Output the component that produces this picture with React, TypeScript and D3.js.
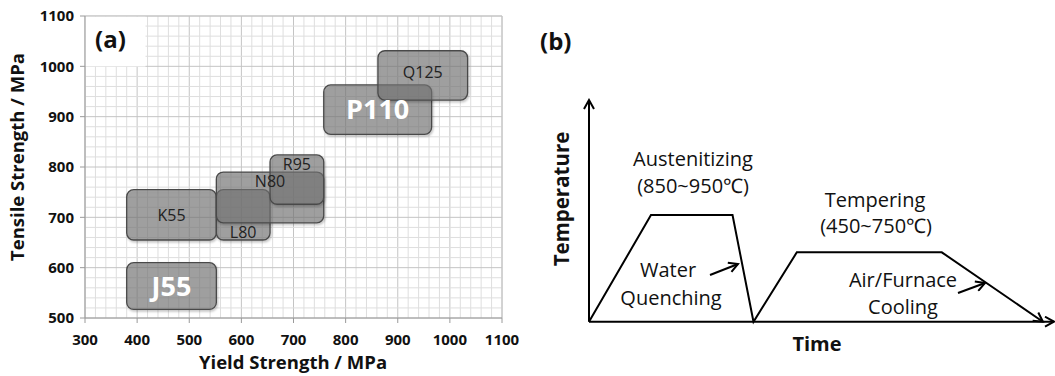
import React from "react";
import * as d3 from "d3";

// ---- Panel (a) data: API 5CT grades (yield range, tensile range)
const grades = ["J55", "K55", "L80", "N80", "R95", "P110", "Q125"];
const yieldMin = [380, 380, 552, 552, 655, 758, 862];
const yieldMax = [552, 552, 655, 758, 758, 965, 1034];
const tensileMin = [517, 655, 655, 689, 726, 865, 933];
const tensileMax = [610, 755, 755, 790, 824, 963, 1031];
const xTicks = [300, 400, 500, 600, 700, 800, 900, 1000, 1100];
const yTicks = [500, 600, 700, 800, 900, 1000, 1100];

// ---- Panel (b) data: heat-treatment profile (arbitrary units)
const profTime = [0, 13.3, 30.8, 35.3, 44.6, 75.7, 97.4];
const profTemp = [0, 48.1, 48.1, 0, 31.3, 31.3, 0];

const FONT = "'Open Sans', 'Noto Sans', sans-serif";

export default function App() {
  const x = d3.scaleLinear().domain([300, 1100]).range([85, 502]);
  const y = d3.scaleLinear().domain([500, 1100]).range([318, 16]);
  const minorX = d3.range(300, 1101, 20);
  const minorY = d3.range(500, 1101, 20);

  const xb = d3.scaleLinear().domain([0, 100]).range([589, 1055]);
  const yb = d3.scaleLinear().domain([0, 100]).range([321.7, 100]);
  const line = d3
    .line<number>()
    .x((_, i) => xb(profTime[i]))
    .y((_, i) => yb(profTemp[i]));
  const profile = line(profTime as any) || "";

  const labelStyle: Record<string, { big: boolean; pos: string }> = {
    J55: { big: true, pos: "c" },
    K55: { big: false, pos: "c" },
    L80: { big: false, pos: "b" },
    N80: { big: false, pos: "t" },
    R95: { big: false, pos: "t" },
    P110: { big: true, pos: "c" },
    Q125: { big: false, pos: "q" },
  };

  return (
    <svg
      width={1055}
      height={376}
      style={{ position: "absolute", left: 0, top: 0, background: "#fff" }}
      fontFamily={FONT}
    >
      <defs>
        <filter id="sh" x="-10%" y="-10%" width="130%" height="140%">
          <feDropShadow dx="1" dy="1.5" stdDeviation="1.2" floodColor="#000" floodOpacity="0.3" />
        </filter>
        <marker id="arrOpen" markerWidth="12" markerHeight="12" refX="10" refY="6" orient="auto" markerUnits="userSpaceOnUse">
          <path d="M1,1 L10,6 L1,11" fill="none" stroke="#000" strokeWidth="2" />
        </marker>
      </defs>

      {/* ---------- Panel (a) ---------- */}
      <g>
        {minorX.map((v) => (
          <line key={"mx" + v} x1={x(v)} x2={x(v)} y1={y(500)} y2={y(1100)}
            stroke={v % 100 === 0 ? "#c4c4c4" : "#dedede"} strokeWidth={1} />
        ))}
        {minorY.map((v) => (
          <line key={"my" + v} x1={x(300)} x2={x(1100)} y1={y(v)} y2={y(v)}
            stroke={v % 100 === 0 ? "#c4c4c4" : "#dedede"} strokeWidth={1} />
        ))}
        <rect x={x(300) + 0.5} y={y(1100) + 0.5} width={60} height={50} fill="#fff" />
        <line x1={x(300)} x2={x(1100)} y1={y(1100)} y2={y(1100)} stroke="#c4c4c4" />
        <line x1={x(1100)} x2={x(1100)} y1={y(500)} y2={y(1100)} stroke="#c4c4c4" />
        <line x1={x(300)} x2={x(300)} y1={y(500)} y2={y(1100)} stroke="#9a9a9a" />
        <line x1={x(300)} x2={x(1100)} y1={y(500)} y2={y(500)} stroke="#9a9a9a" />
        {yTicks.map((v) => (
          <g key={"yt" + v}>
            <line x1={x(300) - 5} x2={x(300)} y1={y(v)} y2={y(v)} stroke="#9a9a9a" />
            <text x={x(300) - 11} y={y(v)} dy="0.35em" textAnchor="end" fontSize={15} fontWeight={700} fill="#111">{v}</text>
          </g>
        ))}
        {xTicks.map((v) => (
          <g key={"xt" + v}>
            <line x1={x(v)} x2={x(v)} y1={y(500)} y2={y(500) + 5} stroke="#9a9a9a" />
            <text x={x(v)} y={y(500) + 27} textAnchor="middle" fontSize={15} fontWeight={700} fill="#111">{v}</text>
          </g>
        ))}
        <text x={293} y={369} textAnchor="middle" fontSize={18.5} fontWeight={700} fill="#111">Yield Strength / MPa</text>
        <text transform="translate(24,157) rotate(-90)" textAnchor="middle" fontSize={18.5} fontWeight={700} fill="#111">Tensile Strength / MPa</text>
        <text x={95} y={48} fontSize={24} fontWeight={700} fill="#111">(a)</text>

        {grades.map((g, i) => (
          <rect key={"r" + g}
            x={x(yieldMin[i])} y={y(tensileMax[i])}
            width={x(yieldMax[i]) - x(yieldMin[i])}
            height={y(tensileMin[i]) - y(tensileMax[i])}
            rx={7} ry={7}
            fill="#777" fillOpacity={0.6}
            stroke="#4a4a4a" strokeWidth={1.3}
            filter="url(#sh)" />
        ))}
        {grades.map((g, i) => {
          const cx = (x(yieldMin[i]) + x(yieldMax[i])) / 2;
          const top = y(tensileMax[i]);
          const bot = y(tensileMin[i]);
          const st = labelStyle[g];
          let ty = (top + bot) / 2;
          if (st.pos === "t") ty = top + 9;
          else if (st.pos === "b") ty = bot - 8;
          else if (st.pos === "q") ty = top + 22;
          return (
            <text key={"l" + g} x={cx} y={ty} dy="0.36em" textAnchor="middle"
              fontSize={st.big ? 27 : 16} fontWeight={st.big ? 700 : 400}
              fill={st.big ? "#fff" : "#222"}>{g}</text>
          );
        })}
      </g>

      {/* ---------- Panel (b) ---------- */}
      <g>
        <text x={540} y={50} fontSize={24} fontWeight={700} fill="#111">(b)</text>
        <line x1={xb(0)} x2={xb(0)} y1={yb(0)} y2={yb(100)} stroke="#000" strokeWidth={2} markerEnd="url(#arrOpen)" />
        <line x1={xb(0)} x2={xb(100) - 1} y1={yb(0)} y2={yb(0)} stroke="#000" strokeWidth={2} markerEnd="url(#arrOpen)" />
        <path d={profile} fill="none" stroke="#000" strokeWidth={2} strokeLinejoin="miter" markerEnd="url(#arrOpen)" />
        <text transform={`translate(569,199) rotate(-90)`} textAnchor="middle" fontSize={20.5} fontWeight={700} fill="#111">Temperature</text>
        <text x={817} y={351} textAnchor="middle" fontSize={20} fontWeight={700} fill="#111">Time</text>

        <text x={693} y={166} textAnchor="middle" fontSize={20} fill="#111">Austenitizing</text>
        <text x={693} y={193} textAnchor="middle" fontSize={20} fill="#111">(850~950℃)</text>
        <text x={668} y={277} textAnchor="middle" fontSize={20} fill="#111">Water</text>
        <text x={671} y={305} textAnchor="middle" fontSize={20} fill="#111">Quenching</text>
        <text x={875} y={207} textAnchor="middle" fontSize={20} fill="#111">Tempering</text>
        <text x={876} y={233} textAnchor="middle" fontSize={20} fill="#111">(450~750℃)</text>
        <text x={903} y={287} textAnchor="middle" fontSize={20} fill="#111">Air/Furnace</text>
        <text x={903} y={314} textAnchor="middle" fontSize={20} fill="#111">Cooling</text>
        <line x1={710} y1={275} x2={738} y2={264} stroke="#000" strokeWidth={2} markerEnd="url(#arrOpen)" />
        <line x1={958} y1={293} x2={985} y2={283} stroke="#000" strokeWidth={2} markerEnd="url(#arrOpen)" />
      </g>
    </svg>
  );
}
